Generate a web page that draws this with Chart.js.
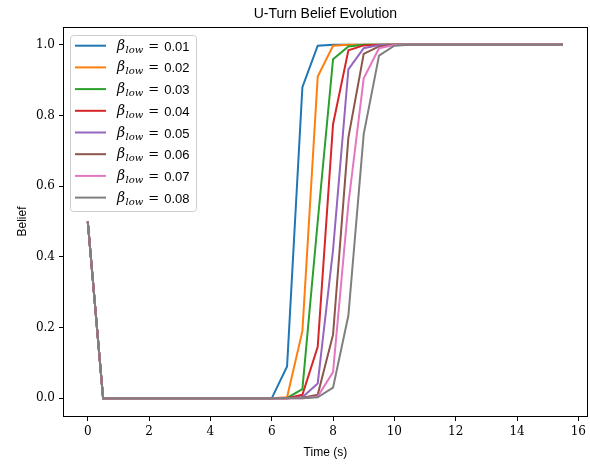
<!DOCTYPE html>
<html>
<head>
<meta charset="utf-8">
<script src="https://cdn.jsdelivr.net/npm/chart.js@4.4.1/dist/chart.umd.min.js"></script>
<style>
  html, body { margin: 0; padding: 0; background: #fff; }
</style>
</head>
<body>
<canvas id="chart" width="590" height="464"></canvas>
<script>
// time steps (s)
const times = [0, 0.5, 1, 1.5, 2, 2.5, 3, 3.5, 4, 4.5, 5, 5.5, 6, 6.5, 7, 7.5,
               8, 8.5, 9, 9.5, 10, 10.5, 11, 11.5, 12, 12.5, 13, 13.5, 14, 14.5, 15, 15.5];

const betaLabels = ["0.01", "0.02", "0.03", "0.04", "0.05", "0.06", "0.07", "0.08"];

const belief001 = [0.5, 0, 0, 0, 0, 0, 0, 0, 0, 0, 0, 0, 0, 0.09, 0.88, 0.997, 1, 1, 1, 1, 1, 1, 1, 1, 1, 1, 1, 1, 1, 1, 1, 1];
const belief002 = [0.5, 0, 0, 0, 0, 0, 0, 0, 0, 0, 0, 0, 0, 0.003, 0.19, 0.91, 0.997, 1, 1, 1, 1, 1, 1, 1, 1, 1, 1, 1, 1, 1, 1, 1];
const belief003 = [0.5, 0, 0, 0, 0, 0, 0, 0, 0, 0, 0, 0, 0, 0.001, 0.026, 0.5, 0.959, 0.995, 1, 1, 1, 1, 1, 1, 1, 1, 1, 1, 1, 1, 1, 1];
const belief004 = [0.5, 0, 0, 0, 0, 0, 0, 0, 0, 0, 0, 0, 0, 0, 0.01, 0.146, 0.775, 0.984, 0.998, 1, 1, 1, 1, 1, 1, 1, 1, 1, 1, 1, 1, 1];
const belief005 = [0.5, 0, 0, 0, 0, 0, 0, 0, 0, 0, 0, 0, 0, 0, 0.003, 0.042, 0.42, 0.93, 0.99, 0.999, 1, 1, 1, 1, 1, 1, 1, 1, 1, 1, 1, 1];
const belief006 = [0.5, 0, 0, 0, 0, 0, 0, 0, 0, 0, 0, 0, 0, 0, 0.002, 0.01, 0.18, 0.737, 0.974, 0.995, 1, 1, 1, 1, 1, 1, 1, 1, 1, 1, 1, 1];
const belief007 = [0.5, 0, 0, 0, 0, 0, 0, 0, 0, 0, 0, 0, 0, 0, 0, 0.005, 0.074, 0.55, 0.905, 0.99, 0.999, 1, 1, 1, 1, 1, 1, 1, 1, 1, 1, 1];
const belief008 = [0.5, 0, 0, 0, 0, 0, 0, 0, 0, 0, 0, 0, 0, 0, 0, 0.003, 0.03, 0.234, 0.747, 0.969, 0.997, 1, 1, 1, 1, 1, 1, 1, 1, 1, 1, 1];

const xTicks = [0, 2, 4, 6, 8, 10, 12, 14, 16];
const yTicks = [0, 0.2, 0.4, 0.6, 0.8, 1.0];

const series = [belief001, belief002, belief003, belief004, belief005, belief006, belief007, belief008];
const colors = ["#1f77b4", "#ff7f0e", "#2ca02c", "#d62728", "#9467bd", "#8c564b", "#e377c2", "#7f7f7f"];

const serif = '"DejaVu Serif", serif';
const sans = '"Liberation Sans", sans-serif';

// title, axis labels, frame and the beta legend (needs subscripts)
const decorPlugin = {
  id: "decor",
  afterDraw(chart) {
    const ctx = chart.ctx;
    const a = chart.chartArea;
    ctx.save();

    // frame
    ctx.strokeStyle = "#000";
    ctx.lineWidth = 1;
    ctx.strokeRect(Math.round(a.left) - 0.5, Math.round(a.top) + 0.5,
                   Math.round(a.right - a.left) + 1, Math.round(a.bottom - a.top));

    // title
    ctx.fillStyle = "#000";
    ctx.textAlign = "center";
    ctx.textBaseline = "alphabetic";
    ctx.font = "14px " + sans;
    ctx.fillText("U-Turn Belief Evolution", (a.left + a.right) / 2, 18);

    // axis labels
    ctx.font = "12px " + sans;
    ctx.fillText("Time (s)", (a.left + a.right) / 2, 456);
    ctx.save();
    ctx.translate(26, (a.top + a.bottom) / 2);
    ctx.rotate(-Math.PI / 2);
    ctx.fillText("Belief", 0, 0);
    ctx.restore();

    // legend box
    const bx = 70.5, by = 35.5, bw = 126, bh = 176, r = 3;
    ctx.beginPath();
    ctx.moveTo(bx + r, by);
    ctx.arcTo(bx + bw, by, bx + bw, by + bh, r);
    ctx.arcTo(bx + bw, by + bh, bx, by + bh, r);
    ctx.arcTo(bx, by + bh, bx, by, r);
    ctx.arcTo(bx, by, bx + bw, by, r);
    ctx.closePath();
    ctx.fillStyle = "rgba(255,255,255,0.8)";
    ctx.fill();
    ctx.strokeStyle = "#cccccc";
    ctx.stroke();

    ctx.textAlign = "left";
    betaLabels.forEach((lab, i) => {
      const y = 45.7 + i * 21.7;
      ctx.strokeStyle = colors[i];
      ctx.lineWidth = 2;
      ctx.beginPath();
      ctx.moveTo(75, y);
      ctx.lineTo(106, y);
      ctx.stroke();

      ctx.fillStyle = "#000";
      let x = 117;
      ctx.font = "italic 14px " + serif;
      ctx.fillText("β", x, y + 4);
      x += ctx.measureText("β").width + 0.5;
      ctx.font = "italic 10px " + serif;
      ctx.fillText("low", x, y + 7);
      x += ctx.measureText("low").width + 5;
      ctx.font = "13px " + serif;
      ctx.fillText("=", x, y + 4);
      x += ctx.measureText("=").width + 5;
      ctx.font = "13px " + sans;
      ctx.fillText(lab, x, y + 5);
    });

    ctx.restore();
  }
};

new Chart(document.getElementById("chart"), {
  type: "line",
  data: {
    datasets: series.map((vals, i) => ({
      label: "beta_low = " + betaLabels[i],
      data: times.map((t, j) => ({ x: t, y: vals[j] })),
      borderColor: colors[i],
      backgroundColor: colors[i],
      borderWidth: 2,
      pointRadius: 0,
      tension: 0,
      order: series.length - 1 - i
    }))
  },
  options: {
    responsive: false,
    animation: false,
    devicePixelRatio: 1,
    layout: { padding: { top: 27, right: 2, left: 0, bottom: 0 } },
    plugins: {
      legend: { display: false },
      title: { display: false },
      tooltip: { enabled: false }
    },
    scales: {
      x: {
        type: "linear",
        min: -0.775,
        max: 16.275,
        afterFit: s => { s.height = 48; },
        afterBuildTicks: s => { s.ticks = xTicks.map(v => ({ value: v })); },
        border: { display: false },
        grid: { drawOnChartArea: false, drawTicks: true, tickLength: 5, color: "#000" },
        ticks: {
          color: "#000",
          padding: 4,
          maxRotation: 0,
          font: { family: serif, size: 12 },
          callback: v => String(v)
        }
      },
      y: {
        min: -0.05,
        max: 1.05,
        afterFit: s => { s.width = 64; },
        afterBuildTicks: s => { s.ticks = yTicks.map(v => ({ value: v })); },
        border: { display: false },
        grid: { drawOnChartArea: false, drawTicks: true, tickLength: 5, color: "#000" },
        ticks: {
          color: "#000",
          padding: 4,
          font: { family: serif, size: 12 },
          callback: v => v.toFixed(1)
        }
      }
    }
  },
  plugins: [decorPlugin]
});
</script>
</body>
</html>
